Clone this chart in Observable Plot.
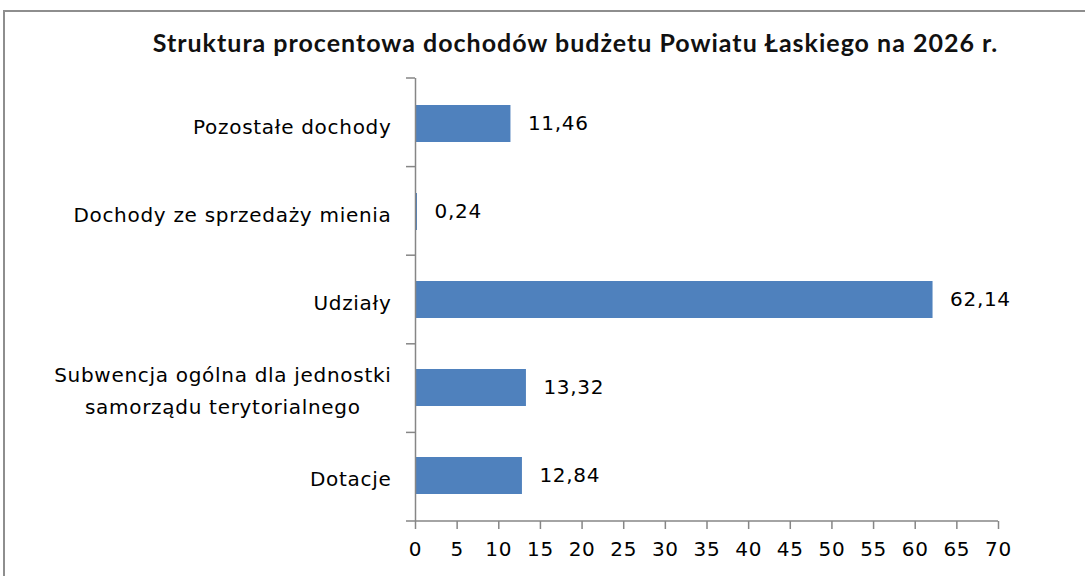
<!DOCTYPE html>
<html>
<head>
<meta charset="utf-8">
<script src="https://cdn.jsdelivr.net/npm/d3@7"></script>
<script src="https://cdn.jsdelivr.net/npm/@observablehq/plot@0.6"></script>
<style>
  html, body { margin: 0; padding: 0; background: #fff; }
  #page { position: relative; width: 1085px; height: 576px; overflow: hidden; }
  #frame { position: absolute; left: 3px; top: 10px; width: 1200px; height: 700px;
           border-left: 2px solid #8e8e8e; border-top: 2px solid #8e8e8e; box-sizing: border-box; }
  #title { position: absolute; top: 27px; left: 0; width: 1151px; text-align: center;
           font-family: Lato, sans-serif; font-weight: bold; font-size: 25px; letter-spacing: 1px;
           line-height: 30px; color: #111; white-space: nowrap; }
  #chart { position: absolute; left: 0; top: 0; }
  #chart svg text { letter-spacing: 0.7px; }
</style>
</head>
<body>
<div id="page">
  <div id="frame"></div>
  <div id="title">Struktura procentowa dochodów budżetu Powiatu Łaskiego na 2026 r.</div>
  <div id="chart"></div>
</div>
<script>
const categories = [
  "Pozostałe dochody",
  "Dochody ze sprzedaży mienia",
  "Udziały",
  "Subwencja ogólna dla jednostki\nsamorządu terytorialnego",
  "Dotacje"
];
const values = [11.46, 0.24, 62.14, 13.32, 12.84];
const xTicks = [0, 5, 10, 15, 20, 25, 30, 35, 40, 45, 50, 55, 60, 65, 70];

const data = categories.map((c, i) => ({category: c, value: values[i]}));
const fmt = v => v.toFixed(2).replace(".", ",");
const axisColor = "#868686";
const barColor = "#4f81bd";
const font = "'DejaVu Sans', Verdana, sans-serif";

function boundaryTicks(...args) {
  const dims = args.find(a => a && typeof a === "object" && "marginTop" in a && "width" in a);
  const {marginTop, marginBottom, marginLeft, marginRight, width, height} = dims;
  const n = categories.length;
  const step = (height - marginTop - marginBottom) / n;
  const g = d3.create("svg:g").attr("stroke", axisColor).attr("stroke-width", 1.5);
  for (let i = 0; i <= n; i++) {
    const y = marginTop + i * step;
    g.append("line").attr("x1", marginLeft - 9).attr("x2", marginLeft).attr("y1", y).attr("y2", y);
  }
  g.append("line")
    .attr("x1", marginLeft).attr("x2", width - marginRight)
    .attr("y1", height - marginBottom).attr("y2", height - marginBottom);
  return g.node();
}

const chart = Plot.plot({
  width: 1085,
  height: 576,
  marginTop: 78,
  marginBottom: 55,
  marginLeft: 415,
  marginRight: 87,
  style: {fontFamily: font, fontSize: "20px", color: "#000", background: "transparent"},
  x: {domain: [0, 70], ticks: xTicks, label: null},
  y: {domain: categories, paddingInner: 0.585, paddingOuter: 0.2925, label: null, axis: null},
  marks: [
    Plot.barX(data, {x: "value", y: "category", fill: barColor}),
    Plot.ruleX([0], {stroke: axisColor, strokeWidth: 1.5}),
    boundaryTicks,
    Plot.axisX({ticks: xTicks, tickSize: 8, tickPadding: 12, stroke: axisColor, strokeWidth: 1.5,
      fill: "#000", fontSize: 20, tickFormat: d => String(d), label: null}),
    Plot.text(data, {x: "value", y: "category", text: d => fmt(d.value), dx: 17,
      textAnchor: "start", fontSize: 20, fill: "#000"}),
    Plot.text(categories, {x: () => 0, y: d => d, text: d => d, dx: -24, textAnchor: "end",
      fontSize: 20, lineHeight: 1.6, fill: "#000"})
  ]
});
document.getElementById("chart").appendChild(chart);

// center the lines of multi-line category labels relative to each other
d3.select(chart).selectAll("text").each(function() {
  const tspans = this.querySelectorAll("tspan");
  if (tspans.length > 1) {
    const widths = Array.from(tspans, t => t.getComputedTextLength());
    const maxW = Math.max(...widths);
    tspans.forEach((t, i) => t.setAttribute("dx", -(maxW - widths[i]) / 2));
  }
});
</script>
</body>
</html>
